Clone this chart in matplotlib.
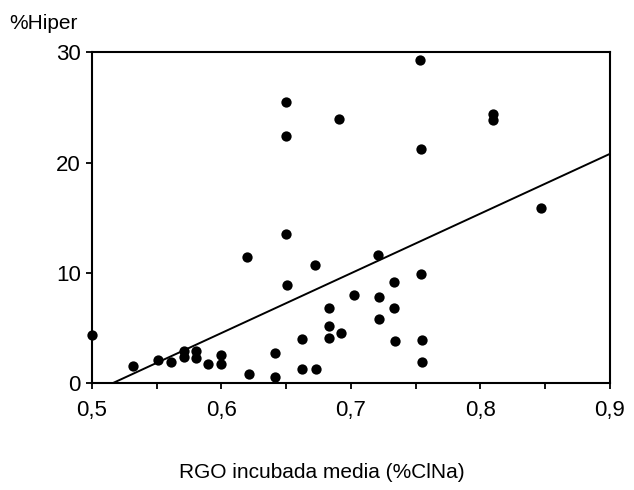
import matplotlib
matplotlib.use("Agg")
import matplotlib.pyplot as plt
from matplotlib.ticker import MultipleLocator

plt.rcParams['font.family'] = ['Liberation Sans', 'DejaVu Sans']

# Data
rgo = [0.500, 0.532, 0.551, 0.561, 0.571, 0.571, 0.580, 0.580, 0.590, 0.600,
       0.600, 0.620, 0.621, 0.641, 0.641, 0.650, 0.651, 0.650, 0.650, 0.662,
       0.662, 0.672, 0.673, 0.683, 0.683, 0.683, 0.691, 0.692, 0.702, 0.721,
       0.722, 0.722, 0.733, 0.733, 0.734, 0.753, 0.754, 0.754, 0.755, 0.755,
       0.810, 0.810, 0.847]
hiper = [4.4, 1.6, 2.1, 1.9, 2.9, 2.4, 2.9, 2.3, 1.7, 2.6,
         1.7, 11.4, 0.8, 2.7, 0.6, 13.5, 8.9, 25.5, 22.4, 4.0,
         1.3, 10.7, 1.3, 6.8, 5.2, 4.1, 24.0, 4.55, 8.0, 11.6,
         7.8, 5.8, 9.15, 6.8, 3.8, 29.3, 21.2, 9.9, 3.9, 1.9,
         23.9, 24.4, 15.9]

# Regression line (as drawn)
line_x = [0.516, 0.9]
line_y = [0.0, 20.8]

xticks = [0.5, 0.6, 0.7, 0.8, 0.9]
xtick_labels = ["0,5", "0,6", "0,7", "0,8", "0,9"]
yticks = [0, 10, 20, 30]
ytick_labels = ["0", "10", "20", "30"]

fig = plt.figure(figsize=(6.34, 4.90), dpi=100)
ax = fig.add_axes([0.145, 0.218, 0.817, 0.675])

ax.scatter(rgo, hiper, s=55, color='black', zorder=3, clip_on=False, linewidths=0)
ax.plot(line_x, line_y, color='black', lw=1.4, zorder=2)

ax.set_xlim(0.5, 0.9)
ax.set_ylim(0, 30)
ax.set_xticks(xticks)
ax.set_xticklabels(xtick_labels)
ax.set_yticks(yticks)
ax.set_yticklabels(ytick_labels)
ax.xaxis.set_minor_locator(MultipleLocator(0.05))

for s in ax.spines.values():
    s.set_linewidth(1.5)
    s.set_color('black')

ax.tick_params(axis='x', which='major', direction='out', length=4, width=1.3,
               pad=8, labelsize=16)
ax.tick_params(axis='x', which='minor', direction='out', length=4, width=1.3)
ax.tick_params(axis='y', which='major', direction='out', length=4, width=1.3,
               pad=4, labelsize=16)

fig.text(0.014, 0.953, "%Hiper", fontsize=15, ha='left', va='center')
fig.text(0.508, 0.035, "RGO incubada media (%ClNa)", fontsize=15,
         ha='center', va='center')

fig.savefig("out.png", dpi=100)
